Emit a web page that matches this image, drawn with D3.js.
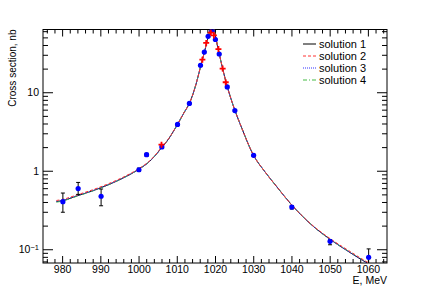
<!DOCTYPE html>
<html>
<head>
<meta charset="utf-8">
<title>Cross section</title>
<script src="https://d3js.org/d3.v7.min.js"></script>
<style>
    body { margin: 0; background: #fff; }
    svg text { font-family: "Liberation Sans", Arial, sans-serif; fill: #000; }
</style>
</head>
<body>
<div id="chart"></div>
<script>
    // fit curves
    var energies  = [978.5, 980, 984, 988, 992, 996, 1000, 1003, 1006, 1008, 1010, 1012, 1013.3, 1015, 1016.2, 1017.2, 1018.1, 1018.8, 1019.4, 1020.0, 1020.6, 1021.1, 1022, 1023.2, 1024.2, 1025.2, 1027, 1030, 1033, 1036, 1040, 1045, 1050, 1055, 1060, 1061];
    var solution1 = [0.404, 0.415, 0.48, 0.555, 0.66, 0.81, 1.04, 1.33, 1.95, 2.6, 3.75, 5.6, 7.2, 12.5, 21, 32, 48, 62, 70, 55, 40, 31, 20, 11.8, 8.2, 5.9, 3.5, 1.6, 0.98, 0.64, 0.37, 0.21, 0.135, 0.093, 0.066, 0.062];
    var solution2 = [0.418, 0.43, 0.495, 0.572, 0.68, 0.83, 1.06, 1.35, 1.98, 2.62, 3.77, 5.62, 7.2, 12.5, 21, 32, 48, 62, 70, 55, 40, 31, 20, 11.8, 8.2, 5.9, 3.5, 1.6, 0.98, 0.64, 0.37, 0.212, 0.138, 0.096, 0.068, 0.064];
    var solution3 = [0.408, 0.419, 0.484, 0.559, 0.664, 0.813, 1.04, 1.33, 1.95, 2.6, 3.75, 5.6, 7.2, 12.5, 21, 32, 48, 62, 70, 55, 40, 31, 20, 11.8, 8.2, 5.9, 3.5, 1.6, 0.98, 0.64, 0.37, 0.21, 0.135, 0.093, 0.066, 0.062];
    var solution4 = [0.398, 0.41, 0.476, 0.552, 0.658, 0.808, 1.04, 1.33, 1.95, 2.6, 3.75, 5.6, 7.2, 12.5, 21, 32, 48, 62, 70, 55, 40, 31, 20, 11.8, 8.2, 5.9, 3.5, 1.6, 0.98, 0.64, 0.37, 0.21, 0.134, 0.094, 0.067, 0.063];

    // blue measurements
    var pointE   = [980.2, 984.2, 990.2, 1000.1, 1002.1, 1006.1, 1010.2, 1013.3, 1016.2, 1017.2, 1018.2, 1019.2, 1020.1, 1021.1, 1023.2, 1025.2, 1030.1, 1040.1, 1050.1, 1060.2];
    var pointY   = [0.404, 0.593, 0.473, 1.03, 1.60, 2.01, 3.89, 7.2, 22, 32.5, 51.5, 61, 47, 30.7, 11.7, 5.85, 1.57, 0.345, 0.126, 0.079];
    var pointLo  = [0.108, 0.093, 0.115, 0.05, 0.07, 0.09, 0.1, 0.15, 0.4, 0.6, 0.9, 1.0, 0.8, 0.6, 0.25, 0.15, 0.05, 0.02, 0.012, 0.022];
    var pointHi  = [0.116, 0.117, 0.112, 0.05, 0.07, 0.09, 0.1, 0.15, 0.4, 0.6, 0.9, 1.0, 0.8, 0.6, 0.25, 0.15, 0.05, 0.015, 0.006, 0.022];

    // red measurements
    var crossE = [1006.0, 1016.7, 1017.7, 1018.9, 1019.7, 1020.9, 1022.0, 1022.8];
    var crossY = [2.15, 26, 42.5, 57.5, 53, 35.5, 20, 13.4];

    var xTicks = [980, 990, 1000, 1010, 1020, 1030, 1040, 1050, 1060];
    var yTicks = [0.1, 1, 10];
    var legendNames = ["solution 1", "solution 2", "solution 3", "solution 4"];

    var W = 430, H = 293;
    var margin = { top: 29.5, right: 43, bottom: 30, left: 43 },
        width = W - margin.left - margin.right,
        height = H - margin.top - margin.bottom;

    var x = d3.scaleLinear().domain([975, 1065]).range([0, width]);
    var y = d3.scaleLog().domain([0.0668, 63]).range([height, 0]);

    var root = d3.select("#chart").append("svg")
        .attr("width", W)
        .attr("height", H);
    var svg = root.append("g")
        .attr("transform", "translate(" + margin.left + "," + margin.top + ")");

    svg.append("clipPath").attr("id", "clip")
        .append("rect").attr("width", width).attr("height", height);

    var minorX = d3.range(976, 1065, 2).filter(function (d) { return d % 10 != 0; });
    var minorY = [];
    [0.01, 0.1, 1, 10].forEach(function (dec) {
        for (var k = 2; k <= 9; k++) {
            var v = k * dec;
            if (v > y.domain()[0] && v < y.domain()[1]) minorY.push(v);
        }
    });

    function styleAxis(g) {
        g.select(".domain").remove();
        g.selectAll("line").attr("stroke", "#000");
        g.selectAll("text").attr("font-size", "10.5px").attr("fill", "#000");
    }

    // x axes (bottom, top), ticks point inward
    svg.append("g").attr("transform", "translate(0," + height + ")")
        .call(d3.axisBottom(x).tickValues(xTicks).tickSize(-7).tickPadding(3).tickFormat(d3.format("d")))
        .call(styleAxis);
    svg.append("g").attr("transform", "translate(0," + height + ")")
        .call(d3.axisBottom(x).tickValues(minorX).tickSize(-4).tickFormat(""))
        .call(styleAxis);
    svg.append("g")
        .call(d3.axisTop(x).tickValues(xTicks).tickSize(-7).tickFormat(""))
        .call(styleAxis);
    svg.append("g")
        .call(d3.axisTop(x).tickValues(minorX).tickSize(-4).tickFormat(""))
        .call(styleAxis);

    // y axes (left, right)
    var yLeft = svg.append("g")
        .call(d3.axisLeft(y).tickValues(yTicks).tickSize(-10).tickPadding(4).tickFormat(function (d) {
            return d >= 1 ? d3.format("d")(d) : "";
        }))
        .call(styleAxis);
    yLeft.selectAll(".tick text").filter(function (d) { return d == 0.1; })
        .each(function () {
            var t = d3.select(this);
            t.append("tspan").text("10");
            t.append("tspan").attr("dy", "-0.45em").attr("font-size", "7.5px").text("\u22121");
        });
    svg.append("g")
        .call(d3.axisLeft(y).tickValues(minorY).tickSize(-5).tickFormat(""))
        .call(styleAxis);
    svg.append("g").attr("transform", "translate(" + width + ",0)")
        .call(d3.axisRight(y).tickValues(yTicks).tickSize(-10).tickFormat(""))
        .call(styleAxis);
    svg.append("g").attr("transform", "translate(" + width + ",0)")
        .call(d3.axisRight(y).tickValues(minorY).tickSize(-5).tickFormat(""))
        .call(styleAxis);

    // frame
    svg.append("rect")
        .attr("width", width).attr("height", height)
        .attr("fill", "none").attr("stroke", "#000").attr("stroke-width", 1);

    // curves
    var plot = svg.append("g").attr("clip-path", "url(#clip)");
    var line = d3.line()
        .x(function (d) { return x(d[0]); })
        .y(function (d) { return y(d[1]); })
        .curve(d3.curveMonotoneX);

    var styles = [
        { vals: solution1, color: "#000", dash: null },
        { vals: solution4, color: "#44bb44", dash: "4,2,1,2" },
        { vals: solution3, color: "#3333ff", dash: "1,1" },
        { vals: solution2, color: "#ff3333", dash: "3,2" }
    ];
    styles.forEach(function (s) {
        plot.append("path")
            .datum(d3.zip(energies, s.vals))
            .attr("d", line)
            .attr("fill", "none")
            .attr("stroke", s.color)
            .attr("stroke-width", 1)
            .attr("stroke-dasharray", s.dash);
    });

    // error bars
    var pts = pointE.map(function (e, i) { return { e: e, v: pointY[i], lo: pointY[i] - pointLo[i], hi: pointY[i] + pointHi[i] }; });
    var eb = plot.append("g").attr("stroke", "#000").attr("stroke-width", 1);
    pts.forEach(function (p) {
        var cx = x(p.e);
        eb.append("line").attr("x1", cx).attr("x2", cx).attr("y1", y(p.lo)).attr("y2", y(p.hi));
        eb.append("line").attr("x1", cx - 2).attr("x2", cx + 2).attr("y1", y(p.lo)).attr("y2", y(p.lo));
        eb.append("line").attr("x1", cx - 2).attr("x2", cx + 2).attr("y1", y(p.hi)).attr("y2", y(p.hi));
    });

    plot.selectAll("circle.pt").data(pts).enter().append("circle")
        .attr("class", "pt")
        .attr("cx", function (d) { return x(d.e); })
        .attr("cy", function (d) { return y(d.v); })
        .attr("r", 2.6)
        .attr("fill", "#0000ff");

    var crosses = crossE.map(function (e, i) { return [e, crossY[i]]; });
    plot.selectAll("path.cross").data(crosses).enter().append("path")
        .attr("class", "cross")
        .attr("d", function (d) {
            var cx = x(d[0]), cy = y(d[1]);
            return "M" + (cx - 3) + "," + cy + "H" + (cx + 3) + "M" + cx + "," + (cy - 3) + "V" + (cy + 3);
        })
        .attr("stroke", "#ff0000")
        .attr("stroke-width", 1.8)
        .attr("fill", "none");

    // legend
    var legend = root.append("g");
    var legendStyles = [styles[0], styles[3], styles[2], styles[1]];
    legendNames.forEach(function (name, i) {
        var ly = 44 + i * 12;
        legend.append("line")
            .attr("x1", 303).attr("x2", 316).attr("y1", ly).attr("y2", ly)
            .attr("stroke", legendStyles[i].color)
            .attr("stroke-width", 1)
            .attr("stroke-dasharray", legendStyles[i].dash);
        legend.append("text")
            .attr("x", 319).attr("y", ly + 4)
            .attr("font-size", "11px")
            .text(name);
    });

    // axis titles
    root.append("text")
        .attr("text-anchor", "end")
        .attr("transform", "translate(16," + margin.top + ") rotate(-90)")
        .attr("font-size", "10px")
        .text("Cross section, nb");
    root.append("text")
        .attr("text-anchor", "end")
        .attr("x", margin.left + width)
        .attr("y", 284)
        .attr("font-size", "10.5px")
        .text("E, MeV");
</script>
</body>
</html>
